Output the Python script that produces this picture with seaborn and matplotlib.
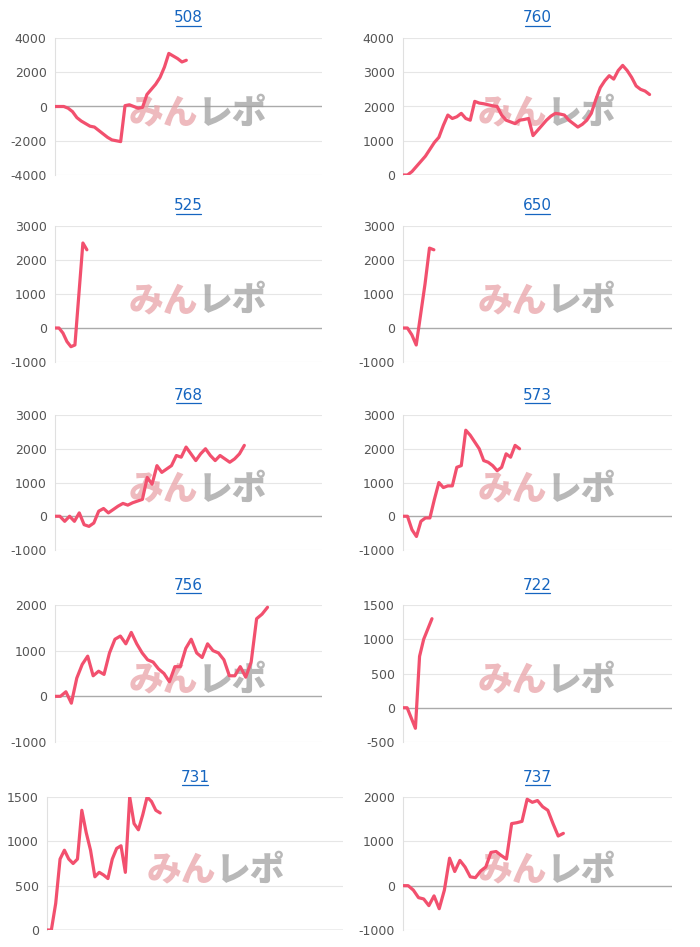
import matplotlib
matplotlib.use("Agg")
import matplotlib.pyplot as plt
import seaborn as sns
import numpy as np
import pandas as pd

titles = ["508", "760", "525", "650", "768", "573", "756", "722", "731", "737"]

s508 = [0,0,0,-100,-300,-650,-850,-1000,-1150,-1200,-1400,-1600,-1800,-1950,-2000,-2050,50,100,0,-100,-50,700,1000,1300,1700,2300,3100,2950,2800,2600,2700]
s760 = [0,0,100,250,400,550,750,950,1100,1450,1750,1650,1700,1800,1650,1600,2150,2100,2080,2050,2020,2000,1750,1600,1550,1500,1600,1620,1650,1150,1300,1450,1600,1720,1800,1780,1750,1600,1500,1400,1480,1600,1800,2200,2550,2750,2900,2800,3050,3200,3050,2850,2600,2500,2450,2350]
s525 = [0,0,-150,-400,-550,-500,1000,2500,2300]
s650 = [0,0,-200,-500,400,1300,2350,2300]
s768 = [0,0,-150,0,-150,100,-250,-300,-200,150,230,100,200,300,380,330,400,450,500,1150,950,1500,1300,1400,1500,1800,1750,2050,1850,1650,1850,2000,1800,1650,1800,1700,1600,1700,1850,2100]
s573 = [0,0,-400,-600,-150,-50,-50,500,1000,850,900,900,1450,1500,2550,2400,2200,2000,1650,1600,1500,1350,1450,1850,1750,2100,2000]
s756 = [0,0,100,-150,400,700,880,450,550,480,950,1250,1320,1150,1400,1150,950,800,750,600,500,320,650,650,1050,1250,950,850,1150,1000,950,800,450,450,650,420,750,1700,1800,1950]
s722 = [0,0,-150,-300,750,1000,1150,1300]
s731 = [0,0,300,800,900,800,750,800,1350,1100,900,600,650,620,580,800,920,950,650,1500,1200,1130,1300,1500,1450,1350,1320]
s737 = [0,0,-100,-270,-300,-450,-230,-520,-100,620,320,570,420,200,180,330,420,750,770,680,600,1400,1420,1450,1950,1880,1920,1780,1700,1400,1120,1180]

series = [s508, s760, s525, s650, s768, s573, s756, s722, s731, s737]
ylims = [(-4000,4000,2000),(0,4000,1000),(-1000,3000,1000),(-1000,3000,1000),(-1000,3000,1000),
         (-1000,3000,1000),(-1000,2000,1000),(-500,1500,500),(0,1500,500),(-1000,2000,1000)]
xmaxes = [61,60,67,61,55,60,49,65,68,52]

rows = [(38,175),(226,362),(415,550),(605,742),(797,930)]
cols = [(55,322),(403,672)]

W, H = 700, 947
fig = plt.figure(figsize=(7, 9.47), dpi=100)
sns.set_style("white")
plt.rcParams['font.family'] = ['DejaVu Sans']

for i, (t, s) in enumerate(zip(titles, series)):
    r, c = divmod(i, 2)
    x0, x1 = cols[c]
    if i == 8:
        x0, x1 = 47, 343
    y0, y1 = rows[r]
    ax = fig.add_axes([x0/W, 1-y1/H, (x1-x0)/W, (y1-y0)/H])
    df = pd.DataFrame({"x": np.arange(len(s)), "y": s})
    lo, hi, st = ylims[i]
    ax.set_ylim(lo, hi)
    ax.set_xlim(0, xmaxes[i])
    ticks = np.arange(lo, hi+1, st)
    ax.set_yticks(ticks)
    ax.set_yticklabels([str(v) for v in ticks], fontsize=9, color="#555555")
    ax.set_xticks([])
    for v in ticks:
        ax.axhline(v, color="#aaaaaa" if v == 0 else "#e6e6e6", lw=1 if v == 0 else 0.8, zorder=0)
    cx = (0.535 if i != 8 else 0.57)
    ax.text(cx, 0.45, "みん", transform=ax.transAxes, ha="right", va="center",
            fontsize=25, fontweight="black", color="#e9a3a8", alpha=0.75,
            family=["Noto Sans CJK JP"], zorder=1)
    ax.text(cx, 0.45, "レポ", transform=ax.transAxes, ha="left", va="center",
            fontsize=25, fontweight="black", color="#a0a0a0", alpha=0.75,
            family=["Noto Sans CJK JP"], zorder=1)
    sns.lineplot(data=df, x="x", y="y", ax=ax, color="#f2506e", lw=2.3, zorder=3)
    ax.set_xlabel("")
    ax.set_ylabel("")
    for sp in ["top", "right", "bottom"]:
        ax.spines[sp].set_visible(False)
    ax.spines["left"].set_color("#e0e0e0")
    ax.tick_params(axis="y", length=0, pad=6)
    ax.text(0.5, 1.0 + 20/(y1-y0), t, transform=ax.transAxes, ha="center", va="center",
            fontsize=11, color="#1565c0")
    ax.plot([0.455, 0.545], [1.0 + 12/(y1-y0)]*2, transform=ax.transAxes,
            color="#1565c0", lw=0.9, clip_on=False)

fig.savefig("out.png", dpi=100, facecolor="white")
